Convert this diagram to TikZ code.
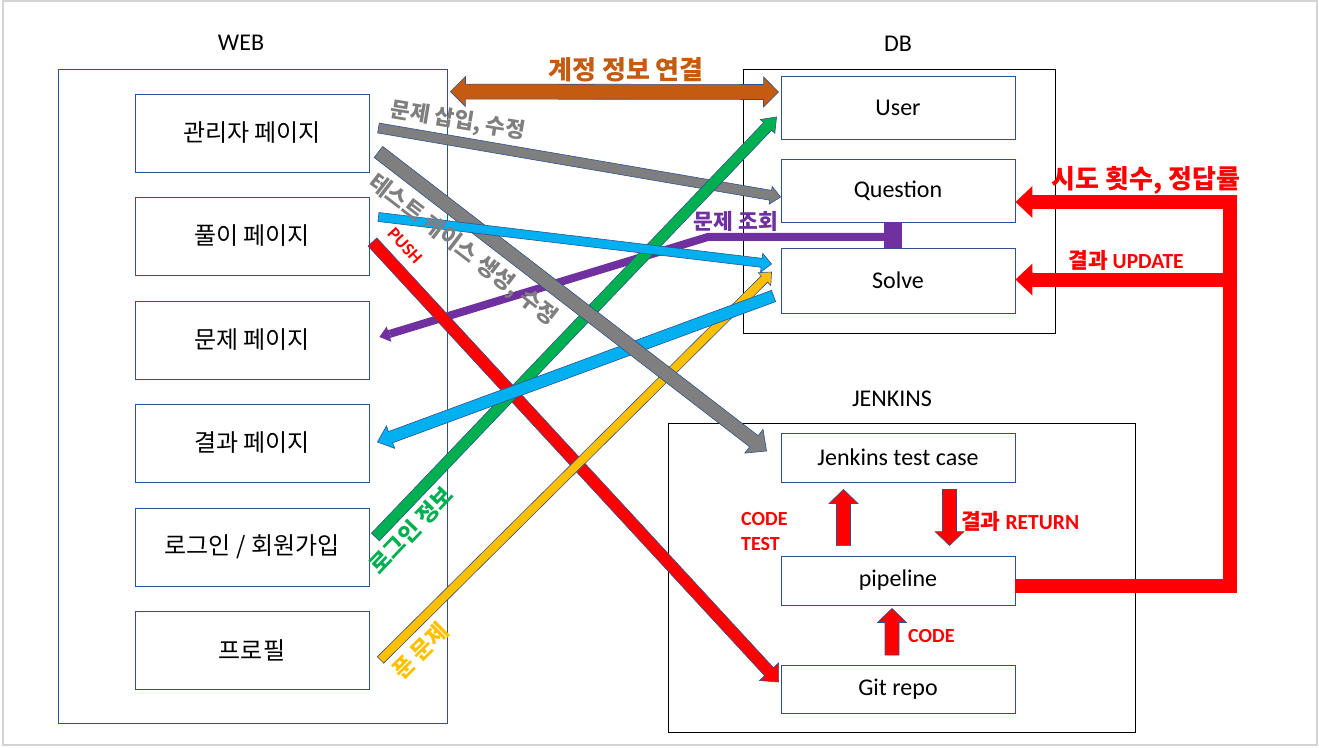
\documentclass[tikz,border=0pt]{standalone}
\usepackage{fontspec}
\setmainfont{Carlito}
\newfontfamily\kr{Noto Sans CJK KR}
\usepackage{tikz}
\usetikzlibrary{calc}

\definecolor{boxblue}{HTML}{2F528F}
\definecolor{framegray}{HTML}{D4D4D4}
\definecolor{corange}{HTML}{C55A11}
\definecolor{cgray}{HTML}{7F7F7F}
\definecolor{cblue}{HTML}{00B0F0}
\definecolor{cred}{HTML}{FF0000}
\definecolor{cpurple}{HTML}{7030A0}
\definecolor{cgreen}{HTML}{00B050}
\definecolor{cyellow}{HTML}{FFC000}

% block arrow: [style]{from}{to}{half shaft}{head length}{half head}
\newcommand{\blockarrow}[6][]{%
  \coordinate (hb) at ($(#3)!#5!(#2)$);
  \draw[arrowline,#1] ($(#2)!#4!90:(#3)$) -- ($(hb)!#4!-90:(#2)$)
    -- ($(hb)!#6!-90:(#2)$) -- (#3) -- ($(hb)!#6!90:(#2)$)
    -- ($(hb)!#4!90:(#2)$) -- ($(#2)!#4!-90:(#3)$) -- cycle;
}
\newcommand{\dblockarrow}[6][]{%
  \coordinate (ha) at ($(#2)!#5!(#3)$);
  \coordinate (hb) at ($(#3)!#5!(#2)$);
  \draw[arrowline,#1] (#2) -- ($(ha)!#6!90:(#3)$) -- ($(ha)!#4!90:(#3)$)
    -- ($(hb)!#4!-90:(#2)$) -- ($(hb)!#6!-90:(#2)$) -- (#3)
    -- ($(hb)!#6!90:(#2)$) -- ($(hb)!#4!90:(#2)$)
    -- ($(ha)!#4!-90:(#3)$) -- ($(ha)!#6!-90:(#3)$) -- cycle;
}

\begin{document}
\begin{tikzpicture}[x=1pt, y=-1pt,
  box/.style={draw=boxblue, line width=0.9pt, minimum width=234pt, inner sep=0pt},
  group/.style={draw, line width=0.9pt, inner sep=0pt},
  krtext/.style={font=\kr\fontsize{24}{28}\selectfont},
  entext/.style={font=\fontsize{24}{28}\selectfont},
  krtag/.style={font=\kr\bfseries\fontsize{22.5}{26}\selectfont, inner sep=0pt},
  entag/.style={font=\bfseries\fontsize{20}{25}\selectfont, inner sep=0pt},
  arrowline/.style={draw=boxblue, line width=0.6pt, line join=miter},
  redbar/.style={draw=cred, line width=14pt, line join=miter}]

\useasboundingbox (0,0) rectangle (1319,747);
\draw[framegray, line width=1.5pt] (3,1) rectangle (1317,745);

\node[entext] (weblabel) at (241,43) {WEB};
\node[group, draw=boxblue, minimum width=389pt, minimum height=654pt] (web) at (252.5,396) {};
\node[box, krtext, minimum height=78pt] (admin) at (252,133) {관리자 페이지};
\node[box, krtext, minimum height=78pt] (solvepage) at (252,236) {풀이 페이지};
\node[box, krtext, minimum height=78pt] (problem) at (252,340) {문제 페이지};
\node[box, krtext, minimum height=78pt] (result) at (252,443) {결과 페이지};
\node[box, krtext, minimum height=78pt] (login) at (252,547) {로그인 / 회원가입};
\node[box, krtext, minimum height=78pt] (profile) at (252,650) {프로필};

\node[entext] (dblabel) at (898,44) {DB};
\node[group, minimum width=312pt, minimum height=264pt] (db) at (899,201) {};
\node[box, entext, minimum height=63pt] (user) at (898,107.5) {User};
\node[box, entext, minimum height=63pt] (question) at (898,190.5) {Question};
\node[box, entext, minimum height=65pt] (solve) at (898,280.5) {Solve};

\node[entext] (jlabel) at (892,399) {JENKINS};
\node[group, minimum width=467pt, minimum height=309pt] (jenkins) at (901.5,577.5) {};
\node[box, entext, minimum height=49pt] (testcase) at (898,457.5) {Jenkins test case};
\node[box, entext, minimum height=49pt] (pipeline) at (898,580.5) {pipeline};
\node[box, entext, minimum height=48pt] (gitrepo) at (898,689.5) {Git repo};

\coordinate (ors) at ($(web.north east)+(3,23)$);
\coordinate (ore) at ($(user.west)+(-2,-15.5)$);
\coordinate (g1s) at ($(admin.east)+(9,-5)$);
\coordinate (g1e) at ($(question.west)+(0,6.5)$);
\coordinate (g2s) at ($(admin.east)+(9,19)$);
\coordinate (g2e) at ($(testcase.west)+(-14,-6.5)$);
\coordinate (b1s) at ($(solvepage.east)+(9,-19)$);
\coordinate (b1e) at ($(solve.west)+(-9,-16.5)$);
\coordinate (rps) at ($(solvepage.east)+(3,6)$);
\coordinate (rpe) at ($(gitrepo.west)+(-2,-7.5)$);
\coordinate (grs) at ($(login.east)+(6,-10)$);
\coordinate (gre) at ($(user.west)+(-4,9.5)$);
\coordinate (b2s) at ($(solve.west)+(-7,15.5)$);
\coordinate (b2e) at ($(result.east)+(8,-1)$);
\coordinate (yls) at ($(profile.east)+(11,10)$);
\coordinate (yle) at ($(solve.west)+(-9,-8.5)$);
\coordinate (pbar) at ($(question.south)+(-5,14.5)$);
\coordinate (pbend) at ($(pbar)+(-185,0)$);
\coordinate (ptip) at ($(problem.east)+(10,-3)$);
\coordinate (pbase) at ($(ptip)!11pt!(pbend)$);

\blockarrow[fill=cgray]{g1s}{g1e}{5pt}{10pt}{9pt}
\fill[cpurple] ($(question.south)+(-14,0)$) rectangle ($(solve.north)+(4,0)$);
\draw[cpurple, line width=8pt] (pbar) -- (pbend) -- (pbase);
\blockarrow[fill=cpurple, draw=none]{pbase}{ptip}{4pt}{10pt}{8pt}
\blockarrow[fill=cred]{rps}{rpe}{6pt}{14pt}{13pt}
\blockarrow[fill=cgreen]{grs}{gre}{5.5pt}{13pt}{10pt}
\blockarrow[fill=cyellow]{yls}{yle}{4.5pt}{10pt}{9pt}
\blockarrow[fill=cblue]{b2s}{b2e}{6pt}{14pt}{12pt}
\blockarrow[fill=cgray]{g2s}{g2e}{7pt}{16pt}{15pt}
\blockarrow[fill=cblue]{b1s}{b1e}{4.5pt}{10pt}{9.5pt}
\dblockarrow[fill=corange]{ors}{ore}{7.5pt}{15pt}{15pt}

\coordinate (rcorner) at ($(pipeline.east)+(215,5)$);
\coordinate (qtip) at ($(question.east)+(0,11.5)$);
\coordinate (qhead) at ($(qtip)+(18,0)$);
\coordinate (rtop) at (rcorner|-qhead);
\coordinate (stip) at ($(solve.east)+(0,-1)$);
\coordinate (shead) at ($(stip)+(18,0)$);
\coordinate (rmid) at (rcorner|-shead);
\draw[redbar] ($(pipeline.east)+(0,5)$) -- (rcorner) -- (rtop) -- (qhead);
\draw[redbar] (rmid) -- (shead);
\blockarrow[fill=cred, draw=none]{qhead}{qtip}{7pt}{17pt}{16pt}
\blockarrow[fill=cred, draw=none]{shead}{stip}{7pt}{17pt}{16pt}

\coordinate (cts) at ($(pipeline.north)+(-54.5,-10)$);
\coordinate (cte) at ($(testcase.south)+(-54.5,7)$);
\coordinate (rrs) at ($(testcase.south)+(51.5,7)$);
\coordinate (rre) at ($(pipeline.north)+(51.5,-10)$);
\coordinate (cds) at ($(gitrepo.north)+(-6,-10)$);
\coordinate (cde) at ($(pipeline.south)+(-6,3)$);
\blockarrow[fill=cred]{cts}{cte}{7pt}{14pt}{14.5pt}
\blockarrow[fill=cred]{rrs}{rre}{7pt}{14pt}{14.5pt}
\blockarrow[fill=cred]{cds}{cde}{7pt}{14pt}{14.5pt}

\node[krtag, text=corange, font=\kr\bfseries\fontsize{26}{30}\selectfont] (acclabel) at (626,70) {계정 정보 연결};
\node[krtag, text=cgray, font=\kr\bfseries\fontsize{21.5}{25}\selectfont, rotate=-9.5] (insertlabel) at (458,121) {문제 삽입, 수정};
\node[krtag, text=cgray, rotate=-37.6] (tclabel) at (463,250) {테스트 케이스 생성, 수정};
\node[entag, text=cred, font=\bfseries\fontsize{18}{20}\selectfont, rotate=-47.2] (pushlabel) at (405,246) {PUSH};
\node[krtag, text=cpurple, font=\kr\bfseries\fontsize{21.5}{25}\selectfont] (querylabel) at (736,221) {문제 조회};
\node[krtag, text=cgreen, rotate=46.3] (loginlabel) at (411,530) {로그인 정보};
\node[krtag, text=cyellow, rotate=44.7] (solvedlabel) at (420,651) {푼 문제};
\node[krtag, text=cred, font=\kr\bfseries\fontsize{26}{30}\selectfont] (triedlabel) at (1146,180) {시도 횟수, 정답률};
\node[entag, text=cred, font=\bfseries\fontsize{21.5}{25}\selectfont] (updlabel) at (1126,260) {{\kr 결과} UPDATE};
\node[entag, text=cred, align=left, anchor=west] (codetest) at (741,532) {CODE\\TEST};
\node[entag, text=cred, font=\bfseries\fontsize{21.5}{25}\selectfont, anchor=west] (retlabel) at (961,521) {{\kr 결과} RETURN};
\node[entag, text=cred, anchor=west] (codelabel) at (908,636) {CODE};
\end{tikzpicture}
\end{document}
